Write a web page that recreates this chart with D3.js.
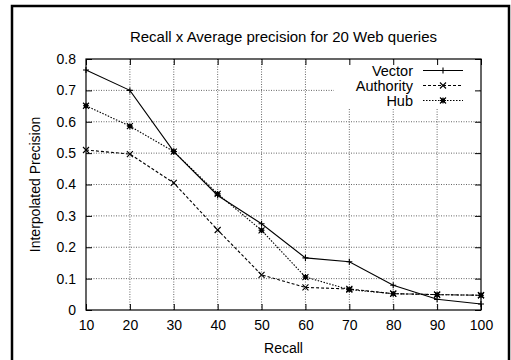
<!DOCTYPE html>
<html>
<head>
<meta charset="utf-8">
<script src="https://cdn.jsdelivr.net/npm/d3@7"></script>
<style>
  body { margin: 0; background: #fff; }
  svg { display: block; font-family: "Liberation Sans", Arial, sans-serif; }
</style>
</head>
<body>
<script>
const width = 511;
const height = 360;

// recall levels and interpolated precision for each method
const recall = [10, 20, 30, 40, 50, 60, 70, 80, 90, 100];
const vector = [0.765, 0.70, 0.505, 0.365, 0.275, 0.166, 0.154, 0.079, 0.034, 0.019];
const authority = [0.51, 0.497, 0.405, 0.255, 0.112, 0.072, 0.067, 0.052, 0.049, 0.047];
const hub = [0.651, 0.586, 0.505, 0.37, 0.254, 0.105, 0.065, 0.052, 0.049, 0.047];
const yTicks = [0, 0.1, 0.2, 0.3, 0.4, 0.5, 0.6, 0.7, 0.8];
const seriesNames = ["Vector", "Authority", "Hub"];

const margin = { left: 86, right: 30, top: 59, bottom: 50 };
const x0 = margin.left, x1 = width - margin.right;
const y0 = height - margin.bottom, y1 = margin.top;

const svg = d3.select("body").append("svg")
    .attr("width", width)
    .attr("height", height);

// outer frame of the figure
svg.append("rect")
    .attr("x", 12).attr("y", 6)
    .attr("width", 497).attr("height", 400)
    .attr("fill", "none")
    .attr("stroke", "#000")
    .attr("stroke-width", 2.5);

const x = d3.scaleLinear().domain([10, 100]).range([x0, x1]);
const y = d3.scaleLinear().domain([0, 0.8]).range([y0, y1]);

// grid
const grid = svg.append("g")
    .attr("stroke", "#666")
    .attr("stroke-width", 1)
    .attr("stroke-dasharray", "1,1.5");
grid.selectAll("line.v")
    .data(recall.slice(1, -1))
    .join("line")
    .attr("x1", d => x(d)).attr("x2", d => x(d))
    .attr("y1", y0).attr("y2", y1);
grid.selectAll("line.h")
    .data(yTicks.slice(1, -1))
    .join("line")
    .attr("class", "h")
    .attr("x1", x0).attr("x2", x1)
    .attr("y1", d => y(d)).attr("y2", d => y(d));

// key box blanks the grid behind it
svg.append("rect")
    .attr("x", 334).attr("y", y1 + 2)
    .attr("width", x1 - 2 - 334).attr("height", 48)
    .attr("fill", "#fff");

// axes, ticks inside and mirrored
const tickLen = 6;
svg.append("g")
    .attr("transform", `translate(0,${y0})`)
    .call(d3.axisBottom(x).tickValues(recall).tickSize(-tickLen).tickPadding(10))
    .call(g => g.select(".domain").remove());
svg.append("g")
    .attr("transform", `translate(0,${y1})`)
    .call(d3.axisTop(x).tickValues(recall).tickSize(-tickLen).tickFormat(""))
    .call(g => g.select(".domain").remove());
svg.append("g")
    .attr("transform", `translate(${x0},0)`)
    .call(d3.axisLeft(y).tickValues(yTicks).tickSize(-tickLen).tickPadding(10).tickFormat(d => d3.format("")(+d.toFixed(1))))
    .call(g => g.select(".domain").remove());
svg.append("g")
    .attr("transform", `translate(${x1},0)`)
    .call(d3.axisRight(y).tickValues(yTicks).tickSize(-tickLen).tickFormat(""))
    .call(g => g.select(".domain").remove());

svg.selectAll(".tick text")
    .attr("font-size", 14)
    .attr("font-family", "Liberation Sans, Arial, sans-serif")
    .attr("fill", "#000");
svg.selectAll(".tick line").attr("stroke", "#000");

svg.append("rect")
    .attr("x", x0).attr("y", y1)
    .attr("width", x1 - x0).attr("height", y0 - y1)
    .attr("fill", "none")
    .attr("stroke", "#000")
    .attr("stroke-width", 1.2);

// titles
svg.append("text")
    .attr("x", (x0 + x1) / 2).attr("y", 42)
    .attr("text-anchor", "middle")
    .attr("font-size", 15)
    .text("Recall x Average precision for 20 Web queries");
svg.append("text")
    .attr("x", (x0 + x1) / 2).attr("y", 353)
    .attr("text-anchor", "middle")
    .attr("font-size", 14)
    .text("Recall");
svg.append("text")
    .attr("transform", `translate(40,${(y0 + y1) / 2}) rotate(-90)`)
    .attr("text-anchor", "middle")
    .attr("font-size", 14)
    .text("Interpolated Precision");

// series
const dashes = [null, "3,2", "1.5,1.5"];
const allSeries = [vector, authority, hub];

function marker(g, kind) {
    const s = 3;
    if (kind === 0) {
        g.append("path").attr("d", `M${-s},0H${s}M0,${-s}V${s}`);
    } else if (kind === 1) {
        g.append("path").attr("d", `M${-s},${-s}L${s},${s}M${-s},${s}L${s},${-s}`);
    } else {
        g.append("path").attr("d", `M${-s},${-s}L${s},${s}M${-s},${s}L${s},${-s}M${-s},0H${s}M0,${-s}V${s}`);
        g.append("rect").attr("x", -2).attr("y", -2).attr("width", 4).attr("height", 4).attr("fill", "#000").attr("stroke", "none");
    }
}

const line = d3.line().x((d, i) => x(recall[i])).y(d => y(d));

allSeries.forEach((vals, k) => {
    const g = svg.append("g").attr("stroke", "#000").attr("fill", "none").attr("stroke-width", 1.1);
    g.append("path")
        .attr("d", line(vals))
        .attr("stroke-dasharray", dashes[k]);
    vals.forEach((v, i) => {
        const m = g.append("g").attr("transform", `translate(${x(recall[i])},${y(v)})`);
        marker(m, k);
    });
});

// key
const keyY = [70.5, 85.5, 100.5];
seriesNames.forEach((name, k) => {
    svg.append("text")
        .attr("x", 413).attr("y", keyY[k])
        .attr("dy", "0.35em")
        .attr("text-anchor", "end")
        .attr("font-size", 14.5)
        .text(name);
    const g = svg.append("g").attr("stroke", "#000").attr("fill", "none").attr("stroke-width", 1.1);
    g.append("line")
        .attr("x1", 423).attr("x2", 463)
        .attr("y1", keyY[k]).attr("y2", keyY[k])
        .attr("stroke-dasharray", dashes[k]);
    marker(g.append("g").attr("transform", `translate(443,${keyY[k]})`), k);
});
</script>
</body>
</html>
